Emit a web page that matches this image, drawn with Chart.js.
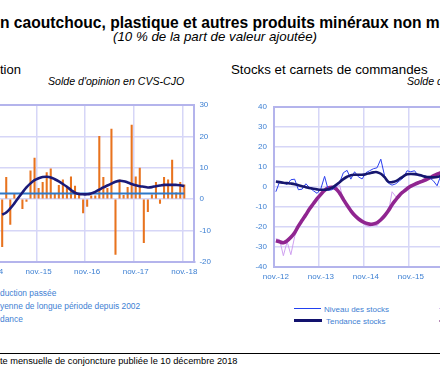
<!DOCTYPE html>
<html lang="fr">
<head>
<meta charset="UTF-8">
<script src="https://cdn.jsdelivr.net/npm/chart.js"></script>
<title>Caoutchouc, plastique et autres produits minéraux non métalliques</title>
<style>
  html, body { margin: 0; padding: 0; }
  body { width: 440px; height: 371px; overflow: hidden; position: relative; background: #fff;
         font-family: "Liberation Sans", Arial, sans-serif; }
  .t { position: absolute; white-space: nowrap; }
  .pre { position: absolute; right: 100%; top: 0; }
  .leg { position: absolute; white-space: nowrap; font-size: 8.4px; color: #3E80D3; }
  .ech { position: absolute; }
  canvas { position: absolute; }
</style>
</head>
<body>
<div class="t" style="left:0;top:13.8px;font-size:15.62px;font-weight:bold;"><span class="pre">Fabrication de produits e</span>n caoutchouc, plastique et autres produits minéraux non métalliques</div>
<div class="t" style="left:0;width:430px;text-align:center;top:29px;font-size:13.3px;font-style:italic;">(10 % de la part de valeur ajoutée)</div>

<div class="t" style="left:0;top:61.7px;font-size:13px;"><span class="pre">Produc</span>tion</div>
<div class="t" style="right:255.7px;top:75.3px;font-size:10.6px;font-style:italic;">Solde d'opinion en CVS-CJO</div>

<div class="t" style="left:231px;top:61.8px;font-size:13.3px;">Stocks et carnets de commandes</div>
<div class="t" style="left:407px;top:75.3px;font-size:10.6px;font-style:italic;">Solde d'opinion en CVS-CJO</div>

<canvas id="prod" width="247" height="187" style="left:-28px;top:95px;width:247px;height:187px"></canvas>
<canvas id="stocks" width="332" height="192" style="left:230px;top:95px;width:332px;height:192px"></canvas>

<!-- légende gauche (échantillons hors cadre) -->
<div class="leg" style="left:0;top:288.4px;"><span class="pre">Pro</span>duction passée</div>
<div class="leg" style="left:0;top:300.7px;"><span class="pre">Mo</span>yenne de longue période depuis 2002</div>
<div class="leg" style="left:0;top:313.9px;"><span class="pre">Ten</span>dance</div>

<!-- légende droite -->
<div class="ech" style="left:294px;top:308px;width:27px;height:1.2px;background:#2241F0"></div>
<div class="leg" style="left:324px;top:304.8px;font-size:8px;">Niveau des stocks</div>
<div class="ech" style="left:294px;top:319.3px;width:28px;height:2.8px;background:#12126E"></div>
<div class="leg" style="left:326px;top:316.8px;font-size:8px;">Tendance stocks</div>
<div class="ech" style="left:439px;top:308px;width:27px;height:1.2px;background:#D9C2EE"></div>
<div class="ech" style="left:439px;top:319.5px;width:28px;height:2.4px;background:#B78AB7"></div>

<div class="ech" style="left:0;top:353px;width:440px;height:1px;background:#000"></div>
<div class="t" style="right:202.5px;top:356.2px;font-size:9.25px;color:#000;"><span class="pre">Source : Banque de France – Enquê</span>te mensuelle de conjoncture publiée le 10 décembre 2018</div>

<script>
// mois
const moisNoms = ['janv.', 'févr.', 'mars', 'avr.', 'mai', 'juin', 'juil.', 'août', 'sept.', 'oct.', 'nov.', 'déc.'];
function mois(annee, m0, n) {
  const out = [];
  for (let k = 0; k < n; k++) {
    const m = (m0 + k) % 12;
    const a = annee + Math.floor((m0 + k) / 12);
    out.push(moisNoms[m] + '-' + String(a).slice(2));
  }
  return out;
}
const moisProd = mois(2014, 10, 51);    // nov.-14 .. janv.-19
const moisStocks = mois(2012, 10, 76);  // nov.-12 .. févr.-19

// Production : valeurs de févr.-15 à nov.-18
const debutProd = 3;
const productionPassee = [-15.2, 6.9, -8.1, 1.6, 0.5, -3.1, -0.8, 9.0, 13.1, 3.4, 5.3, 8.4,
  9.6, 1.8, 4.4, 6.1, 3.7, 7.1, 4.1, 1.3, -4.4, -2.4, 1.0, 1.0,
  20.0, 6.9, 3.4, 22.3, -17.7, 6.1, 1.2, 3.7, 23.6, 7.1, 9.9, -13.9,
  -4.0, 1.3, 5.3, -1.4, 6.9, 6.1, 12.4, 2.0, 5.3, 4.5];
const tendanceProd = [-5.0, -4.3, -3.0, -1.4, 0.4, 2.1, 3.7, 5.0, 6.0, 6.6, 7.0, 7.1,
  6.9, 6.3, 5.6, 4.8, 3.9, 2.9, 2.0, 1.6, 1.5, 1.5, 1.8, 2.3,
  3.0, 3.7, 4.3, 4.9, 5.5, 5.8, 5.7, 5.3, 4.8, 4.4, 4.1, 3.9,
  3.7, 3.8, 4.1, 4.3, 4.5, 4.5, 4.5, 4.5, 4.4, 4.1];
const moyenneLongue = 1.8;
const finProd = 48; // nov.-18

// Stocks et carnets : valeurs depuis nov.-12 (partie visible)
const niveauStocks = [-2.5, 2.5, 1.8, 1.2, 3.5, 3.8, -1.5, -1.2, 1.5, -0.5, -2.0, -3.3,
  -1.0, 5.2, -1.8, -1.5, 0.0, 2.0, 7.0, 8.2, 3.8, 7.5, 5.0, 3.9,
  7.0, 8.0, 9.0, 9.5, 13.8, 5.5, 1.8, 0.8, 1.5, 3.0, 4.5, 8.0,
  7.5, 8.0, 5.5, 5.5, 5.3, 4.5, 3.0, 0.5, 5.6, 7.0];
const tendanceStocks = [2.6, 2.3, 2.0, 1.8, 1.6, 1.3, 0.8, 0.3, -0.2, -0.6, -1.0, -1.3,
  -1.5, -1.5, -1.2, -0.5, 0.8, 2.3, 3.8, 5.0, 5.8, 6.0, 6.0, 6.0,
  6.3, 6.8, 7.2, 7.3, 6.5, 4.8, 2.5, 2.3, 2.8, 4.0, 5.2, 6.2,
  6.4, 6.3, 6.0, 5.5, 5.0, 4.8, 4.7, 4.9, 5.4, 5.8];
const carnets = [-26, -26.5, -34.5, -27.5, -34, -25, -19.5, -17, -14.5, -11, -8, -6.5,
  -3.5, -2, -0.5, 0, -1, 1, -7, -9.5, -13, -15, -15.5, -17.5,
  -19.5, -20, -19, -19.5, -17, -14, -13, -2.5, -5, -4.5, -2, -1,
  0.5, 1, 2, 3, 3, 5, 5.5, 6.5, 7.5, 8];
const tendanceCarnets = [-27, -27.5, -28, -27, -25.3, -23, -19.7, -16.8, -14, -11, -8.5, -6,
  -3.8, -1.8, -0.6, -0.3, -1, -3.2, -6.3, -9.3, -12, -14.3, -16, -17.3,
  -18.2, -18.7, -18.6, -18, -16.5, -14.5, -12, -9, -6.5, -4.2, -2.5, -1,
  0.3, 1.2, 2, 2.7, 3.5, 4.4, 5.4, 6.3, 7, 7.6];

const gridCol = '#D6D6F7';
const axeCol = '#B4B4EC';
const tickCol = '#3E80D3';
Chart.defaults.font.family = '"Liberation Sans", Arial, sans-serif';

function decale(arr, n) { return new Array(n).fill(null).concat(arr); }
const estNov = (labels, i) => labels[i] !== undefined && labels[i].startsWith('nov.');

new Chart(document.getElementById('prod'), {
  type: 'bar',
  data: {
    labels: moisProd,
    datasets: [
      { type: 'line', label: 'Tendance', data: decale(tendanceProd, debutProd),
        borderColor: '#1A1A78', borderWidth: 2.6, pointRadius: 0, tension: 0.4, order: 1 },
      { type: 'line', label: 'Moyenne de longue période depuis 2002',
        data: moisProd.slice(0, finProd + 1).map(() => moyenneLongue),
        borderColor: '#2E79C9', borderWidth: 2, pointRadius: 0, order: 2 },
      { label: 'Production passée', data: decale(productionPassee, debutProd),
        backgroundColor: '#E8731E', barThickness: 1.4, order: 3 }
    ]
  },
  options: {
    responsive: false, animation: false, devicePixelRatio: 1,
    layout: { autoPadding: false, padding: { left: 0, right: 0, top: 10, bottom: 0.3 } },
    plugins: { legend: { display: false }, tooltip: { enabled: false } },
    scales: {
      x: {
        offset: true,
        grid: { offset: true, drawTicks: false, lineWidth: 1.5,
                color: ctx => estNov(moisProd, ctx.index) ? gridCol : 'rgba(0,0,0,0)' },
        border: { color: axeCol, width: 2 },
        ticks: { autoSkip: false, maxRotation: 0, padding: 5, color: tickCol, font: { size: 8 },
                 callback: (v, i) => estNov(moisProd, i) ? moisProd[i] : '' },
        afterFit: s => { s.height = 20; }
      },
      y: {
        position: 'right', min: -20, max: 30,
        grid: { drawTicks: false, color: ctx => ctx.tick && ctx.tick.value === 30 ? axeCol : gridCol,
                lineWidth: ctx => ctx.tick && ctx.tick.value === 30 ? 2 : 1.5 },
        border: { color: axeCol, width: 2 },
        ticks: { stepSize: 10, padding: 5, color: tickCol, font: { size: 8 } },
        afterFit: s => { s.width = 24.6; }
      }
    }
  }
});

new Chart(document.getElementById('stocks'), {
  type: 'line',
  data: {
    labels: moisStocks,
    datasets: [
      { label: 'Tendance stocks', data: tendanceStocks, borderColor: '#16166E', borderWidth: 2.6,
        pointRadius: 0, tension: 0.4, order: 1 },
      { label: 'Niveau des stocks', data: niveauStocks, borderColor: '#2B3FEE', borderWidth: 1,
        pointRadius: 0, tension: 0, order: 2 },
      { label: 'Tendance carnets', data: tendanceCarnets, borderColor: '#902590', borderWidth: 3.6,
        pointRadius: 0, tension: 0.4, order: 3 },
      { label: 'Carnets de commandes', data: carnets, borderColor: '#CFA0F0', borderWidth: 1,
        pointRadius: 0, tension: 0, order: 4 }
    ]
  },
  options: {
    responsive: false, animation: false, devicePixelRatio: 1,
    layout: { autoPadding: false, padding: { left: 14, right: 1, top: 10.3, bottom: 0.3 } },
    plugins: { legend: { display: false }, tooltip: { enabled: false } },
    scales: {
      x: {
        offset: true,
        grid: { offset: true, drawTicks: false, lineWidth: 1.5,
                color: ctx => estNov(moisStocks, ctx.index) && ctx.index > 0 ? gridCol : 'rgba(0,0,0,0)' },
        border: { color: axeCol, width: 2 },
        ticks: { autoSkip: false, maxRotation: 0, padding: 5, color: tickCol, font: { size: 8 },
                 callback: (v, i) => estNov(moisStocks, i) ? moisStocks[i] : '' },
        afterFit: s => { s.height = 20; }
      },
      y: {
        position: 'left', min: -40, max: 40,
        grid: { drawTicks: false, color: ctx => ctx.tick && ctx.tick.value === 40 ? axeCol : gridCol,
                lineWidth: ctx => ctx.tick && ctx.tick.value === 40 ? 2 : 1.5 },
        border: { color: axeCol, width: 2 },
        ticks: { stepSize: 10, padding: 7, color: tickCol, font: { size: 8 } },
        afterFit: s => { s.width = 30; }
      }
    }
  }
});
</script>
</body>
</html>
